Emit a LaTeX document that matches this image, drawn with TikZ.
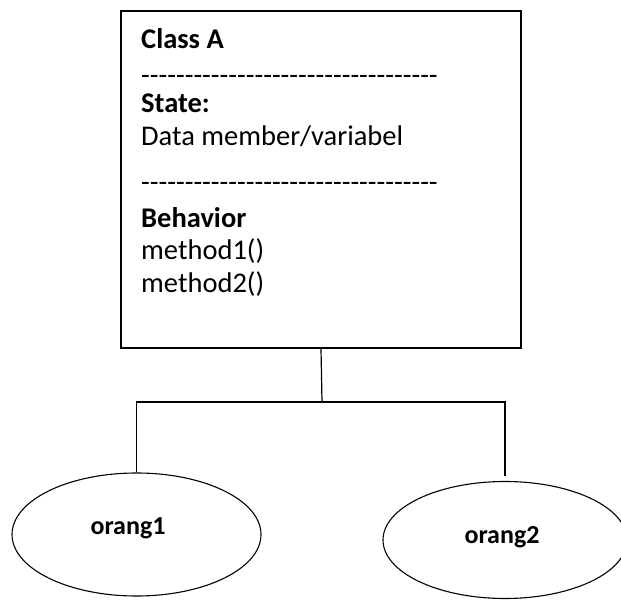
\documentclass[tikz,border=0pt]{standalone}
\usepackage{fontspec}
\setmainfont{Carlito}
\usetikzlibrary{positioning,shapes.geometric}

\newcommand\dashrow{\foreach \d in {1,...,34}{-}}

\begin{document}
\begin{tikzpicture}[
    x=1pt, y=-1pt,
    classbox/.style={
        rectangle,
        draw=black,
        line width=1.2pt,
        minimum width=400pt,
        minimum height=337pt,
        inner sep=0pt
    },
    member/.style={
        anchor=base west,
        inner sep=0pt,
        font=\fontsize{28.5}{34}\selectfont
    },
    header/.style={
        member,
        font=\fontsize{28.5}{34}\selectfont\bfseries
    },
    object/.style={
        ellipse,
        draw=black,
        line width=1.1pt,
        inner sep=0pt
    },
    objlabel/.style={
        anchor=base,
        inner sep=0pt,
        font=\fontsize{26}{30}\selectfont\bfseries
    },
    link/.style={
        line width=1.2pt,
        draw=black
    }
]

\useasboundingbox (0,0) rectangle (621,601);

\node[classbox] (classA) at (321,179.5) {};

\node[header] (classname) at (141,49) {Class A};
\node[member] (dashA) at (141,85) {\dashrow};
\node[header] (statehead) at (141,113) {State:};
\node[member] (stateline) at (141,146) {Data member/variabel};
\node[member] (dashB) at (141,192) {\dashrow};
\node[header] (behavhead) at (141,228) {Behavior};
\node[member] (methodA) at (141,260) {method1()};
\node[member] (methodB) at (141,293) {method2()};

\node[object, minimum width=249pt, minimum height=123pt] (orang1) at (136.5,534.5) {};
\node[object, minimum width=244pt, minimum height=117pt] (orang2) at (505,540) {};
\node[objlabel] (orang1text) at (128,534) {orang1};
\node[objlabel] (orang2text) at (502,543) {orang2};

\coordinate (junction) at (322,402);

\draw[link] (classA.south) -- (junction);
\draw[link] (orang1.north) |- (junction) -| ([yshift=5pt]orang2.north);

\end{tikzpicture}
\end{document}
